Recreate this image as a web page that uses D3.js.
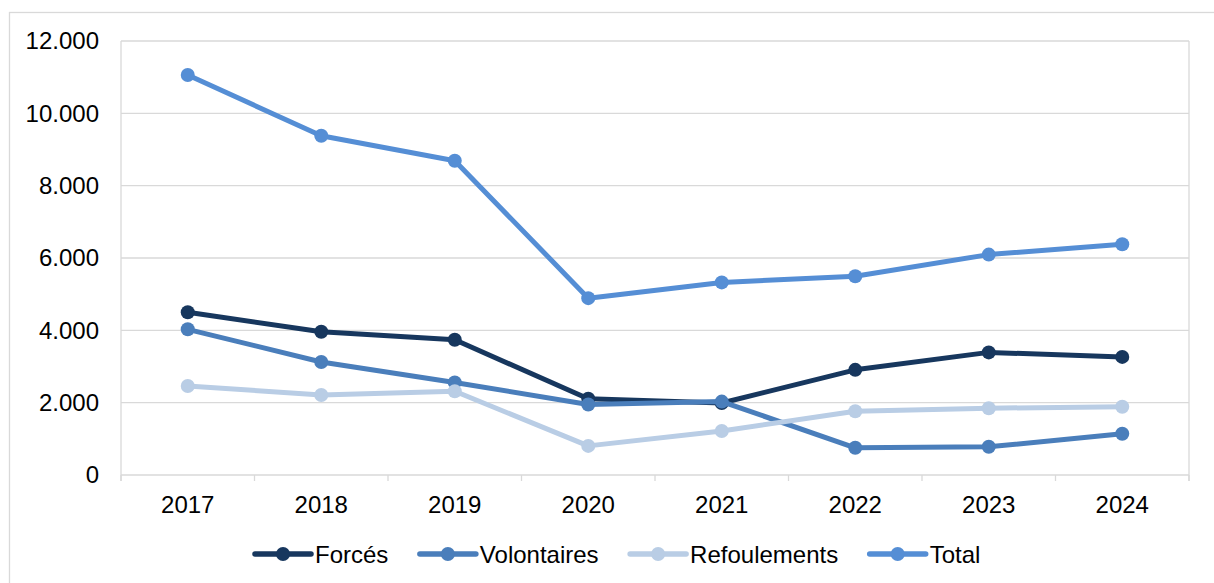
<!DOCTYPE html>
<html>
<head>
<meta charset="utf-8">
<script src="https://cdn.jsdelivr.net/npm/d3@7/dist/d3.min.js"></script>
<style>
  html, body { margin: 0; padding: 0; background: #fff; }
  svg { display: block; }
  text { font-family: "Liberation Sans", Arial, sans-serif; fill: #000; }
</style>
</head>
<body>
<svg id="chart" width="1214" height="583"></svg>
<script>
const years = ["2017", "2018", "2019", "2020", "2021", "2022", "2023", "2024"];
const forces = [4498, 3960, 3738, 2110, 1990, 2908, 3390, 3265];
const volontaires = [4028, 3124, 2560, 1950, 2030, 752, 780, 1139];
const refoulements = [2461, 2212, 2315, 805, 1215, 1762, 1847, 1889];
const total = [11060, 9380, 8690, 4890, 5325, 5495, 6094, 6381];
const seriesNames = ["Forcés", "Volontaires", "Refoulements", "Total"];
const seriesColors = ["#17375E", "#4A7EBB", "#B9CDE5", "#558ED5"];
const yTicks = [0, 2000, 4000, 6000, 8000, 10000, 12000];

const series = [forces, volontaires, refoulements, total].map((vals, i) => ({
  name: seriesNames[i], color: seriesColors[i], values: vals
}));

const svg = d3.select("#chart");
const W = 1214, H = 583;
const m = { left: 121, top: 41, right: 1189, bottom: 475 };
const fontSize = "24px";
const gridColor = "#d9d9d9";

// outer chart border
svg.append("rect")
  .attr("x", 9.5).attr("y", 12.5)
  .attr("width", W + 20).attr("height", H + 20)
  .attr("fill", "none").attr("stroke", gridColor).attr("stroke-width", 1.3);

const x = d3.scaleBand().domain(years).range([m.left, m.right]).padding(0);
const y = d3.scaleLinear().domain([0, 12000]).range([m.bottom, m.top]);

// gridlines
svg.append("g").selectAll("line").data(yTicks).join("line")
  .attr("x1", m.left).attr("x2", m.right)
  .attr("y1", d => y(d)).attr("y2", d => y(d))
  .attr("stroke", gridColor).attr("stroke-width", 1.3);

// plot border (left & right)
svg.append("line").attr("x1", m.left).attr("x2", m.left).attr("y1", m.top).attr("y2", m.bottom + 6)
  .attr("stroke", gridColor).attr("stroke-width", 1.3);
svg.append("line").attr("x1", m.right).attr("x2", m.right).attr("y1", m.top).attr("y2", m.bottom + 6)
  .attr("stroke", gridColor).attr("stroke-width", 1.3);

// x ticks at band boundaries
const boundaries = years.map(d => x(d)).concat([m.right]);
svg.append("g").selectAll("line").data(boundaries).join("line")
  .attr("x1", d => d).attr("x2", d => d)
  .attr("y1", m.bottom).attr("y2", m.bottom + 6)
  .attr("stroke", gridColor).attr("stroke-width", 1.3);

// y labels
const fmt = d => d === 0 ? "0" : d3.format(",")(d).replace(/,/g, ".");
svg.append("g").selectAll("text").data(yTicks).join("text")
  .attr("x", 99).attr("y", d => y(d))
  .attr("dy", "0.35em")
  .attr("text-anchor", "end")
  .style("font-size", fontSize)
  .text(fmt);

// x labels
svg.append("g").selectAll("text").data(years).join("text")
  .attr("x", d => x(d) + x.bandwidth() / 2)
  .attr("y", 512.5)
  .attr("text-anchor", "middle")
  .style("font-size", fontSize)
  .text(d => d);

// lines
const line = d3.line()
  .x((d, i) => x(years[i]) + x.bandwidth() / 2)
  .y(d => y(d));

series.forEach(s => {
  const g = svg.append("g");
  g.append("path")
    .attr("d", line(s.values))
    .attr("fill", "none")
    .attr("stroke", s.color)
    .attr("stroke-width", 5)
    .attr("stroke-linejoin", "round");
  g.selectAll("circle").data(s.values).join("circle")
    .attr("cx", (d, i) => x(years[i]) + x.bandwidth() / 2)
    .attr("cy", d => y(d))
    .attr("r", 7)
    .attr("fill", s.color);
});

// legend
const legend = svg.append("g");
let lx = 255;
const ly = 554;
series.forEach(s => {
  const g = legend.append("g");
  g.append("line").attr("x1", lx).attr("x2", lx + 56).attr("y1", ly).attr("y2", ly)
    .attr("stroke", s.color).attr("stroke-width", 5.5).attr("stroke-linecap", "round");
  g.append("circle").attr("cx", lx + 28).attr("cy", ly).attr("r", 7).attr("fill", s.color);
  const t = g.append("text").attr("x", lx + 60).attr("y", 563)
    .style("font-size", fontSize).text(s.name);
  lx = lx + 60 + t.node().getComputedTextLength() + 31.5;
});
</script>
</body>
</html>
